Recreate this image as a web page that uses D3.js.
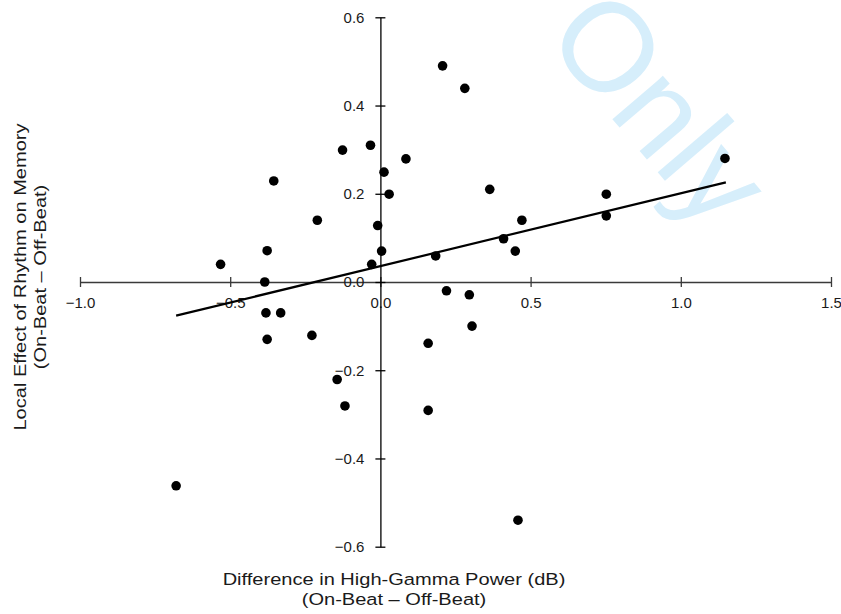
<!DOCTYPE html>
<html>
<head>
<meta charset="utf-8">
<script src="https://cdnjs.cloudflare.com/ajax/libs/d3/7.8.5/d3.min.js"></script>
<style>
	body { margin: 0; background: #fff; }
	text { font-family: "Liberation Sans", Arial, sans-serif; fill: #1a1a1a; }
	.tick text { font-size: 15px; }
	.title { font-size: 17px; }
	.watermark { font-size: 126px; fill: #d6eefb; }
</style>
</head>
<body>
<div id="svg"></div>
<script>
/* jshint esversion: 6 */

// Difference in high-gamma power (dB) per electrode
const powerDiff = [
	0.207, 0.281, -0.126, -0.033, 0.085, 0.012, 0.029, -0.355, -0.210, -0.009,
	-0.377, 0.004, -0.532, -0.029, 0.184, -0.385, 0.220, 0.296, 1.147, 0.364,
	0.752, 0.752, 0.471, 0.410, 0.449, -0.381, -0.332, -0.377, -0.228, -0.144,
	-0.118, -0.680, 0.159, 0.159, 0.305, 0.458
];

// Local effect of rhythm on memory for the same electrodes
const memoryEffect = [
	0.490, 0.439, 0.299, 0.310, 0.279, 0.249, 0.199, 0.229, 0.140, 0.128,
	0.071, 0.070, 0.040, 0.040, 0.059, 0.000, -0.020, -0.029, 0.280, 0.210,
	0.199, 0.150, 0.140, 0.098, 0.070, -0.070, -0.070, -0.130, -0.121, -0.221,
	-0.281, -0.462, -0.139, -0.291, -0.100, -0.540
];

// Fitted line
const fitSlope = 0.165,
			fitIntercept = 0.036,
			fitRange = [-0.68, 1.15];

const xTicks = [-1.0, -0.5, 0.0, 0.5, 1.0, 1.5],
			yTicks = [-0.6, -0.4, -0.2, 0.0, 0.2, 0.4, 0.6];

(function() {
	function show() {

	/////////////////////////////////////////////////////////////////////////////
	//// Set Up /////////////////////////////////////////////////////////////////
	/////////////////////////////////////////////////////////////////////////////

		const width = 841,
					height = 614;

		const xScale = d3.scaleLinear()
			.domain([-1.0, 1.5])
			.range([80, 831]);

		const yScale = d3.scaleLinear()
			.domain([-0.6, 0.6])
			.range([546.7, 17.3]);

		const svg = d3.select("#svg")
			.append("svg")
				.attr("width", width)
				.attr("height", height);

		// Watermark goes underneath everything
		svg.append("text")
			.attr("class", "watermark")
			.attr("transform", "translate(543, 38) rotate(49.5)")
			.text("Only");

		/////////////////////////////////////////////////////////////////////////
		//// Axes ///////////////////////////////////////////////////////////////
		/////////////////////////////////////////////////////////////////////////

		const xAxis = svg.append("g")
			.attr("transform", `translate(0, ${yScale(0)})`)
			.call(d3.axisBottom(xScale)
				.tickValues(xTicks)
				.tickFormat(d3.format(".1f"))
				.tickSizeInner(5)
				.tickSizeOuter(0)
				.tickPadding(10));

		xAxis.select(".domain").attr("stroke", "#3a3a3a").attr("stroke-width", 1.3);
		xAxis.selectAll(".tick line").attr("y1", -5).attr("stroke", "#3a3a3a").attr("stroke-width", 1.3);

		const yAxis = svg.append("g")
			.attr("transform", `translate(${xScale(0)}, 0)`)
			.call(d3.axisLeft(yScale)
				.tickValues(yTicks)
				.tickFormat(d3.format(".1f"))
				.tickSizeInner(5)
				.tickSizeOuter(0)
				.tickPadding(11));

		yAxis.select(".domain").attr("stroke", "#000").attr("stroke-width", 1.3);
		yAxis.selectAll(".tick line").attr("x1", 5).attr("stroke", "#000").attr("stroke-width", 1.3);

		svg.selectAll(".tick text")
			.attr("fill", "#1a1a1a")
			.style("font-family", "'Liberation Sans', Arial, sans-serif");

		/////////////////////////////////////////////////////////////////////////
		//// Marks //////////////////////////////////////////////////////////////
		/////////////////////////////////////////////////////////////////////////

		svg.append("line")
			.attr("x1", xScale(fitRange[0]))
			.attr("y1", yScale(fitIntercept + fitSlope * fitRange[0]))
			.attr("x2", xScale(fitRange[1]))
			.attr("y2", yScale(fitIntercept + fitSlope * fitRange[1]))
			.attr("stroke", "#000")
			.attr("stroke-width", 2.2);

		svg.append("g")
			.selectAll("circle")
			.data(d3.range(powerDiff.length))
			.enter()
			.append("circle")
				.attr("cx", i => xScale(powerDiff[i]))
				.attr("cy", i => yScale(memoryEffect[i]))
				.attr("r", 4.8)
				.attr("fill", "#000");

		/////////////////////////////////////////////////////////////////////////
		//// Titles /////////////////////////////////////////////////////////////
		/////////////////////////////////////////////////////////////////////////

		const xTitle = svg.append("g")
			.attr("transform", "translate(394, 0) scale(1.18, 1)");

		xTitle.append("text")
			.attr("class", "title")
			.attr("y", 585)
			.style("text-anchor", "middle")
			.text("Difference in High-Gamma Power (dB)");

		xTitle.append("text")
			.attr("class", "title")
			.attr("y", 605)
			.style("text-anchor", "middle")
			.text("(On-Beat \u2013 Off-Beat)");

		const yTitle = svg.append("g")
			.attr("transform", "translate(0, 277) rotate(-90) scale(1.18, 1)");

		yTitle.append("text")
			.attr("class", "title")
			.attr("y", 26)
			.style("text-anchor", "middle")
			.text("Local Effect of Rhythm on Memory");

		yTitle.append("text")
			.attr("class", "title")
			.attr("y", 46)
			.style("text-anchor", "middle")
			.text("(On-Beat \u2013 Off-Beat)");
	}

	show();
})();
</script>
</body>
</html>
